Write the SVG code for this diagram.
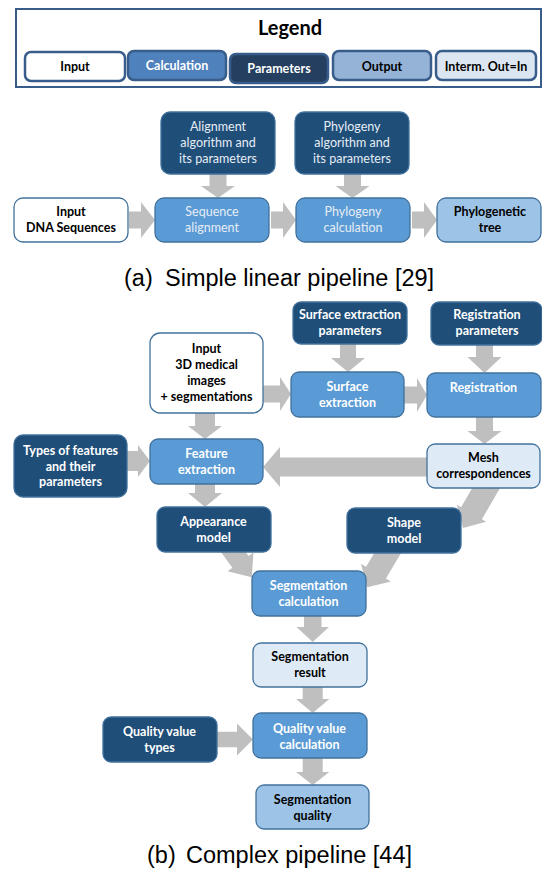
<svg xmlns="http://www.w3.org/2000/svg" width="542" height="871" viewBox="0 0 542 871">
<style>
  .t { font-family: Lato, "Open Sans", "Liberation Sans", sans-serif; font-size: 12.5px; text-anchor: middle; }
  .b { font-weight: bold; }
  .w { fill: #FFFFFF; }
  .lw { fill: #E6EDF5; }
  .k { fill: #000000; }
  .lg { stroke: #385D8A; stroke-width: 2.5; }
  .nd { stroke: #41719C; stroke-width: 1.3; }
  .inp { fill: #FFFFFF; }
  .calc { fill: #5B9BD5; }
  .par { fill: #1F4E79; }
  .out { fill: #9DC3E6; }
  .mid { fill: #DEEBF7; }
  .arr { fill: #BFBFBF; stroke: none; }
  .cap { font-family: "Liberation Sans", Arial, sans-serif; font-size: 23.5px; fill: #000; }
</style>

<!-- Legend -->
<g id="legend">
  <rect x="16" y="9" width="525" height="78" fill="#FFFFFF" stroke="#385D8A" stroke-width="2"/>
  <text x="290" y="35" class="t b k" style="font-size:20px">Legend</text>
  <g id="legend-input">
    <rect x="25" y="52" width="100" height="29" rx="6" class="lg" fill="#FFFFFF"/>
    <text x="75" y="71" class="t b k">Input</text>
  </g>
  <g id="legend-calculation">
    <rect x="128" y="51" width="98" height="29" rx="6" class="lg" fill="#4F81BD"/>
    <text x="177" y="69.5" class="t b w">Calculation</text>
  </g>
  <g id="legend-parameters">
    <rect x="230" y="54" width="98" height="29" rx="6" class="lg" fill="#243F60"/>
    <text x="279" y="73" class="t b w">Parameters</text>
  </g>
  <g id="legend-output">
    <rect x="333" y="51" width="98" height="29" rx="6" class="lg" fill="#95B3D7"/>
    <text x="382" y="70.5" class="t b k">Output</text>
  </g>
  <g id="legend-interm">
    <rect x="436" y="51" width="100" height="29" rx="6" class="lg" fill="#DCE6F2"/>
    <text x="486" y="70.5" class="t b k">Interm. Out=In</text>
  </g>
</g>

<!-- Connectors -->
<g id="connectors">
  <!-- (a) -->
  <polygon class="arr" points="129,211.5 141,211.5 141,202 155,220 141,238 141,228.5 129,228.5"/>
  <polygon class="arr" points="271,211.5 283,211.5 283,202 296,220 283,238 283,228.5 271,228.5"/>
  <polygon class="arr" points="412,211.5 424,211.5 424,202 437,220 424,238 424,228.5 412,228.5"/>
  <polygon class="arr" points="209.5,174 226.5,174 226.5,186 235,186 218,198 201,186 209.5,186"/>
  <polygon class="arr" points="344,174 361,174 361,186 369.5,186 352.5,198 335.5,186 344,186"/>
  <!-- (b) -->
  <polygon class="arr" points="195,413 215,413 215,426 222,426 205,439 188,426 195,426"/>
  <polygon class="arr" points="195,484 215,484 215,493 222,493 205,507 188,493 195,493"/>
  <polygon class="arr" points="127,451 138,451 138,445 150,461 138,477 138,471 127,471"/>
  <polygon class="arr" points="263,385.5 280,385.5 280,377 291,394 280,411 280,402.5 263,402.5"/>
  <polygon class="arr" points="404,386.5 417,386.5 417,378 427,395 417,412 417,403.5 404,403.5"/>
  <polygon class="arr" points="340,344 356,344 356,358 365,358 348,372 331,358 340,358"/>
  <polygon class="arr" points="476,345 493,345 493,357 501.5,357 484.5,373 467.5,357 476,357"/>
  <polygon class="arr" points="476,417 493,417 493,431 501.5,431 484.5,444 467.5,431 476,431"/>
  <polygon class="arr" points="427,457.5 280,457.5 280,447 263,467 280,487 280,476.5 427,476.5"/>
  <polygon class="arr" points="214.7,543.5 232.4,567.8 227.5,571.3 251.7,577.3 253.5,552.5 248.6,556 230.9,531.7"/>
  <polygon class="arr" points="384,536.7 366.1,566.8 361,563.8 367.3,587.3 391,581.6 385.9,578.6 403.8,548.5"/>
  <polygon class="arr" points="481.1,472.7 461.1,507.3 456.8,504.8 463,528 486.2,521.8 481.9,519.3 501.9,484.7"/>
  <polygon class="arr" points="304,616 321.5,616 321.5,627 329,627 312.7,642 296.5,627 304,627"/>
  <polygon class="arr" points="302.7,687 322.7,687 322.7,699 329.3,699 312.7,713 296,699 302.7,699"/>
  <polygon class="arr" points="302.7,758 322.7,758 322.7,772 329.3,772 312.7,785 296,772 302.7,772"/>
  <polygon class="arr" points="217,731.7 237,731.7 237,723.5 253,739.5 237,755.5 237,747.3 217,747.3"/>
</g>

<!-- (a) Simple linear pipeline -->
<g id="a-input">
  <rect x="14" y="198" width="114" height="44" rx="9" class="nd inp"/>
  <text class="t b k" x="71" y="216">Input</text>
  <text class="t b k" x="71" y="232">DNA Sequences</text>
</g>
<g id="a-align-params">
  <rect x="161" y="112" width="114" height="62" rx="9" class="nd par"/>
  <text class="t lw" x="218" y="131">Alignment</text>
  <text class="t lw" x="218" y="147">algorithm and</text>
  <text class="t lw" x="218" y="163">its parameters</text>
</g>
<g id="a-seq-align">
  <rect x="155" y="198" width="114" height="44" rx="9" class="nd calc"/>
  <text class="t lw" x="212" y="216">Sequence</text>
  <text class="t lw" x="212" y="232">alignment</text>
</g>
<g id="a-phylo-params">
  <rect x="295" y="112" width="114" height="62" rx="9" class="nd par"/>
  <text class="t lw" x="352" y="131">Phylogeny</text>
  <text class="t lw" x="352" y="147">algorithm and</text>
  <text class="t lw" x="352" y="163">its parameters</text>
</g>
<g id="a-phylo-calc">
  <rect x="296" y="198" width="114" height="44" rx="9" class="nd calc"/>
  <text class="t lw" x="353" y="216">Phylogeny</text>
  <text class="t lw" x="353" y="232">calculation</text>
</g>
<g id="a-tree">
  <rect x="437" y="198" width="104" height="44" rx="9" class="nd out"/>
  <text class="t b k" x="490" y="216">Phylogenetic</text>
  <text class="t b k" x="490" y="232">tree</text>
</g>
<text class="cap" x="124" y="286">(a)<tspan x="165">Simple linear pipeline [29]</tspan></text>

<!-- (b) Complex pipeline -->
<g id="b-input">
  <rect x="150" y="333" width="113" height="80" rx="10" class="nd inp"/>
  <text class="t b k" x="206.5" y="353">Input</text>
  <text class="t b k" x="206.5" y="369">3D medical</text>
  <text class="t b k" x="206.5" y="385">images</text>
  <text class="t b k" x="206.5" y="401">+ segmentations</text>
</g>
<g id="b-surf-params">
  <rect x="293" y="302" width="114" height="42" rx="8" class="nd par"/>
  <text class="t b w" x="350" y="319">Surface extraction</text>
  <text class="t b w" x="350" y="335">parameters</text>
</g>
<g id="b-reg-params">
  <rect x="431" y="302" width="111" height="43" rx="8" class="nd par"/>
  <text class="t b w" x="487" y="319">Registration</text>
  <text class="t b w" x="487" y="335">parameters</text>
</g>
<g id="b-surface">
  <rect x="291" y="372" width="113" height="45" rx="8" class="nd calc"/>
  <text class="t b w" x="347.5" y="390.5">Surface</text>
  <text class="t b w" x="347.5" y="406.5">extraction</text>
</g>
<g id="b-registration">
  <rect x="427" y="373" width="114" height="44" rx="8" class="nd calc"/>
  <text class="t b w" x="483.5" y="391.5">Registration</text>
</g>
<g id="b-types">
  <rect x="14" y="435" width="113" height="62" rx="9" class="nd par"/>
  <text class="t b w" x="70.5" y="454.5">Types of features</text>
  <text class="t b w" x="70.5" y="470.5">and their</text>
  <text class="t b w" x="70.5" y="486">parameters</text>
</g>
<g id="b-feature">
  <rect x="150" y="439" width="113" height="45" rx="8" class="nd calc"/>
  <text class="t b w" x="206.5" y="458">Feature</text>
  <text class="t b w" x="206.5" y="474">extraction</text>
</g>
<g id="b-mesh">
  <rect x="427" y="444" width="113" height="44" rx="8" class="nd mid"/>
  <text class="t b k" x="483.5" y="462">Mesh</text>
  <text class="t b k" x="483.5" y="478">correspondences</text>
</g>
<g id="b-appearance">
  <rect x="157" y="507" width="114" height="45" rx="8" class="nd par"/>
  <text class="t b w" x="213.5" y="526">Appearance</text>
  <text class="t b w" x="213.5" y="542">model</text>
</g>
<g id="b-shape">
  <rect x="347" y="508" width="114" height="45" rx="8" class="nd par"/>
  <text class="t b w" x="404" y="527">Shape</text>
  <text class="t b w" x="404" y="543">model</text>
</g>
<g id="b-seg-calc">
  <rect x="252" y="571" width="114" height="45" rx="8" class="nd calc"/>
  <text class="t b w" x="308.5" y="590">Segmentation</text>
  <text class="t b w" x="308.5" y="605.5">calculation</text>
</g>
<g id="b-seg-result">
  <rect x="253" y="643" width="114" height="44" rx="8" class="nd mid"/>
  <text class="t b k" x="310" y="661">Segmentation</text>
  <text class="t b k" x="310" y="676.5">result</text>
</g>
<g id="b-quality-types">
  <rect x="103" y="717" width="114" height="45" rx="8" class="nd par"/>
  <text class="t b w" x="159.5" y="736">Quality value</text>
  <text class="t b w" x="159.5" y="752">types</text>
</g>
<g id="b-quality-calc">
  <rect x="253" y="713" width="114" height="45" rx="8" class="nd calc"/>
  <text class="t b w" x="309.5" y="732.5">Quality value</text>
  <text class="t b w" x="309.5" y="748.5">calculation</text>
</g>
<g id="b-seg-quality">
  <rect x="256" y="785" width="113" height="44" rx="8" class="nd out"/>
  <text class="t b k" x="312.5" y="804">Segmentation</text>
  <text class="t b k" x="312.5" y="819.5">quality</text>
</g>
<text class="cap" x="147" y="862.5">(b)<tspan x="186">Complex pipeline [44]</tspan></text>
</svg>
